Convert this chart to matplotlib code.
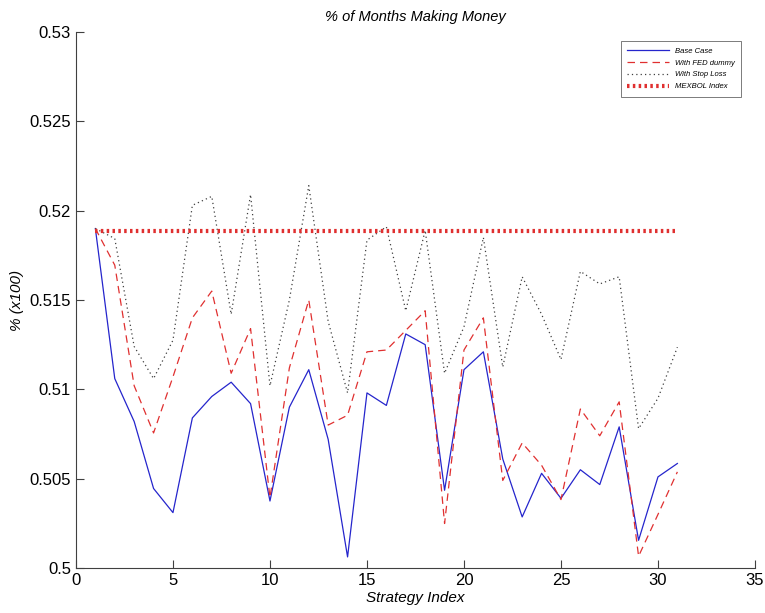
import matplotlib
matplotlib.use('Agg')
import matplotlib.pyplot as plt
import numpy as np

plt.rcParams['font.family'] = ['Liberation Sans', 'DejaVu Sans']

# indice de estrategia
idx = np.arange(1, 32)

base_case = [0.5190, 0.5106, 0.5082, 0.50445, 0.5031, 0.5084, 0.5096, 0.5104, 0.5092, 0.50375,
             0.5090, 0.5111, 0.5072, 0.50062, 0.5098, 0.5091, 0.5131, 0.5125, 0.50435, 0.5111,
             0.5121, 0.5061, 0.50286, 0.5053, 0.5039, 0.5055, 0.50467, 0.5079, 0.50155, 0.5051,
             0.50585]

fed_dummy = [0.5190, 0.51695, 0.5102, 0.50756, 0.5107, 0.5140, 0.5155, 0.5109, 0.5134, 0.50394,
             0.5112, 0.5150, 0.5080, 0.50855, 0.5121, 0.5122, 0.5133, 0.5144, 0.50249, 0.5122,
             0.5140, 0.5049, 0.5070, 0.50575, 0.50383, 0.5089, 0.5074, 0.5093, 0.50066, 0.5030,
             0.50538]

stop_loss = [0.5190, 0.51844, 0.5124, 0.5106, 0.51275, 0.5203, 0.5208, 0.5142, 0.5209, 0.5102,
             0.5150, 0.5214, 0.5138, 0.5098, 0.51835, 0.5191, 0.5144, 0.5189, 0.5109, 0.5135,
             0.5185, 0.51125, 0.5163, 0.5142, 0.51167, 0.5166, 0.5159, 0.5163, 0.5078, 0.5095,
             0.51236]

mexbol = 0.51888

fig = plt.figure(figsize=(7.65, 6.13), dpi=100)
ax = fig.add_axes([0.0993, 0.0734, 0.8876, 0.8744])

ax.plot(idx, base_case, '-', color='#2525cc', lw=0.9, label='Base Case')
ax.plot(idx, fed_dummy, '--', color='#e03030', lw=0.9, dashes=(6, 4), label='With FED dummy')
ax.plot(idx, stop_loss, ':', color='#404040', lw=0.9, dashes=(1, 2.5), label='With Stop Loss')
ax.plot(idx, [mexbol]*len(idx), color='#e03030', lw=3, dashes=(0.6, 0.8), label='MEXBOL Index')

ax.set_xlim(0, 35)
ax.set_ylim(0.5, 0.53)
ax.set_xticks(np.arange(0, 36, 5))
ax.set_yticks([0.5, 0.505, 0.51, 0.515, 0.52, 0.525, 0.53])
ax.set_yticklabels(['0.5', '0.505', '0.51', '0.515', '0.52', '0.525', '0.53'])
ax.tick_params(direction='in', length=6, labelsize=12, width=0.8, color='#404040')
for s in ['top', 'right']:
    ax.spines[s].set_visible(False)
for s in ['left', 'bottom']:
    ax.spines[s].set_color('#404040')
    ax.spines[s].set_linewidth(0.8)

ax.set_title('% of Months Making Money', fontsize=10.5, style='italic', pad=8)
ax.set_xlabel('Strategy Index', fontsize=11, style='italic', labelpad=2)
ax.set_ylabel('% (x100)', fontsize=11, style='italic', labelpad=4)

leg = ax.legend(loc='upper right', bbox_to_anchor=(0.985, 0.99),
                prop={'style': 'italic', 'size': 5.5}, frameon=True, fancybox=False,
                edgecolor='#404040', handlelength=5.5, borderpad=0.8, labelspacing=0.6)
leg.get_frame().set_linewidth(0.6)

fig.savefig('out.png', dpi=100)
